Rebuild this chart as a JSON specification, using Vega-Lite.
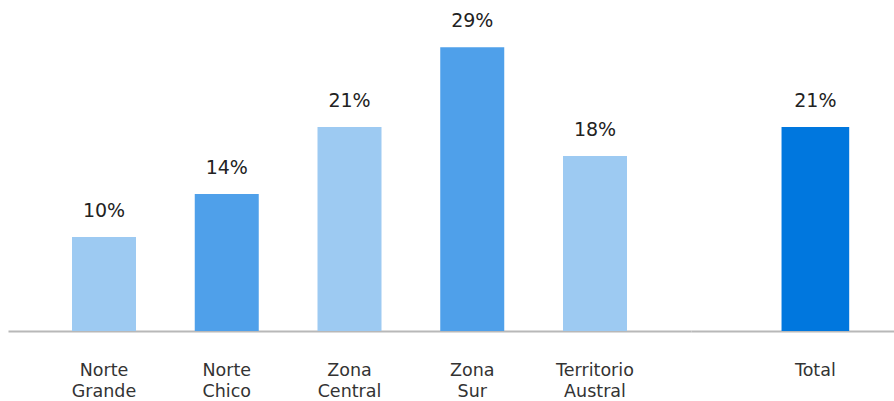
{
  "$schema": "https://vega.github.io/schema/vega-lite/v6.json",
  "padding": {"left": 8, "top": 0, "right": 0, "bottom": 0},
  "spacing": 0,
  "bounds": "flush",
  "config": {"view": {"stroke": null}, "font": "DejaVu Sans"},
  "datasets": {
    "d": [
      {"region": "Norte Grande", "grupo": "regiones", "valor": 0.0964},
      {"region": "Norte Chico", "grupo": "regiones", "valor": 0.1405},
      {"region": "Zona Central", "grupo": "regiones", "valor": 0.2092},
      {"region": "Zona Sur", "grupo": "regiones", "valor": 0.291},
      {"region": "Territorio Austral", "grupo": "regiones", "valor": 0.1795},
      {"region": "Total", "grupo": "total", "valor": 0.2092}
    ]
  },
  "hconcat": [
    {
      "width": 683,
      "height": 331,
      "data": {"name": "d"},
      "transform": [{"filter": "datum.grupo == 'regiones'"}],
      "encoding": {
        "x": {
          "field": "region", "type": "nominal", "sort": null,
          "scale": {"paddingInner": 0.4786, "paddingOuter": 0.5214},
          "axis": {"title": null, "ticks": false, "domainColor": "#B8B8B8", "domainWidth": 2, "labelFontSize": 17.5, "labelColor": "#333333", "labelPadding": 30, "labelLineHeight": 21, "labelAngle": 0, "labelExpr": "split(datum.label, ' ')"}
        },
        "y": {"field": "valor", "type": "quantitative", "scale": {"domain": [0, 0.3395]}, "axis": null}
      },
      "layer": [
        {
          "mark": {"type": "bar"},
          "encoding": {
            "color": {"field": "region", "type": "nominal", "legend": null,
              "scale": {"domain": ["Norte Grande", "Norte Chico", "Zona Central", "Zona Sur", "Territorio Austral", "Total"],
                        "range": ["#9DCAF2", "#4FA0EA", "#9DCAF2", "#4FA0EA", "#9DCAF2", "#0077DE"]}}
          }
        },
        {
          "mark": {"type": "text", "dy": -20, "baseline": "alphabetic", "fontSize": 19, "color": "#222222"},
          "encoding": {"text": {"field": "valor", "type": "quantitative", "format": ".0%"}}
        }
      ]
    },
    {
      "width": 203,
      "height": 331,
      "data": {"name": "d"},
      "transform": [{"filter": "datum.grupo == 'total'"}],
      "encoding": {
        "x": {
          "field": "region", "type": "nominal", "sort": null,
          "scale": {"paddingInner": 0, "paddingOuter": 1.086, "align": 0.669},
          "axis": {"title": null, "ticks": false, "domainColor": "#B8B8B8", "domainWidth": 2, "labelFontSize": 17.5, "labelColor": "#333333", "labelPadding": 30, "labelLineHeight": 21, "labelAngle": 0, "labelExpr": "split(datum.label, ' ')"}
        },
        "y": {"field": "valor", "type": "quantitative", "scale": {"domain": [0, 0.3395]}, "axis": null}
      },
      "layer": [
        {
          "mark": {"type": "bar"},
          "encoding": {
            "color": {"field": "region", "type": "nominal", "legend": null,
              "scale": {"domain": ["Norte Grande", "Norte Chico", "Zona Central", "Zona Sur", "Territorio Austral", "Total"],
                        "range": ["#9DCAF2", "#4FA0EA", "#9DCAF2", "#4FA0EA", "#9DCAF2", "#0077DE"]}}
          }
        },
        {
          "mark": {"type": "text", "dy": -20, "baseline": "alphabetic", "fontSize": 19, "color": "#222222"},
          "encoding": {"text": {"field": "valor", "type": "quantitative", "format": ".0%"}}
        }
      ]
    }
  ]
}
